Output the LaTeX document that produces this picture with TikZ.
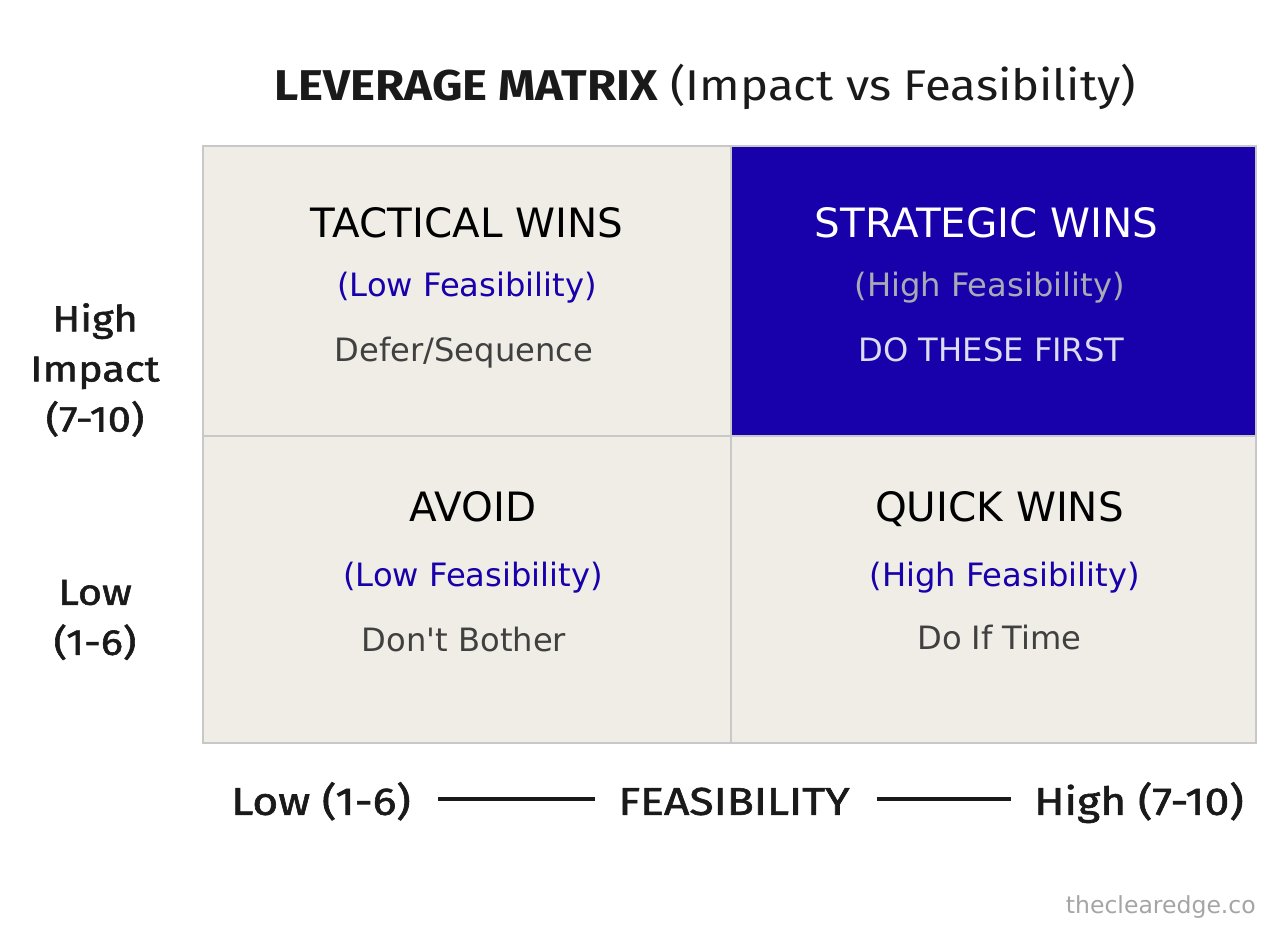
\documentclass[tikz,border=0pt]{standalone}
\usepackage{fontspec}
\setmainfont{DejaVu Sans}
\newfontfamily\axisfont{Fira Sans}[FakeStretch=1.1]
\newfontfamily\axismedfont{Fira Sans}[FakeStretch=1.15, FakeBold=1.6]
\usetikzlibrary{positioning}
\definecolor{cellbg}{RGB}{240,237,231}
\definecolor{deepblue}{RGB}{24,0,170}
\definecolor{gridline}{RGB}{200,200,200}
\definecolor{labelblack}{RGB}{26,26,26}
\definecolor{notegray}{RGB}{64,64,64}
\definecolor{hotsub}{RGB}{170,170,182}
\definecolor{hotnote}{RGB}{221,221,240}
\definecolor{markgray}{RGB}{165,165,165}

\begin{document}
\begin{tikzpicture}[cell/.style={rectangle, draw=gridline, line width=0.9pt, fill=cellbg, inner sep=0pt},
	hot/.style={cell, fill=deepblue},
	head/.style={font=\fontsize{23}{27}\selectfont, anchor=base},
	sub/.style={font=\fontsize{18.3}{22}\selectfont, text=deepblue, anchor=base},
	note/.style={font=\fontsize{18.3}{22}\selectfont, text=notegray, anchor=base},
	impact/.style={font=\axismedfont\fontsize{20.5}{28.5}\selectfont, align=center, text=labelblack},
	axis/.style={font=\axismedfont\fontsize{22}{26}\selectfont, text=labelblack, text height=18pt, text depth=0pt},
	axisline/.style={line width=2.3pt, labelblack, shorten <=12pt, shorten >=10pt}]

			\useasboundingbox (0,0) rectangle (25.76,18.62);

			\node[font=\axisfont\fontsize{24.5}{28}\selectfont, text=labelblack, anchor=base] (title) at (14.10,16.60) {\textbf{LEVERAGE MATRIX} (Impact vs Feasibility)};

			% quadrants
			\node[cell, minimum width=10.56cm, minimum height=5.80cm] (tactical) at (9.34,12.80) {};
			\node[hot, minimum width=10.50cm, minimum height=5.80cm] (strategic) at (19.87,12.80) {};
			\node[cell, minimum width=10.56cm, minimum height=6.14cm] (avoid) at (9.34,6.83) {};
			\node[cell, minimum width=10.50cm, minimum height=6.14cm] (quick) at (19.87,6.83) {};

			% top row
			\node[head] (tacticalhead) at ([yshift=-1.84cm]tactical.north) {TACTICAL WINS};
			\node[sub, below=1.18cm of tacticalhead.base, anchor=base] (tacticalsub) {(Low Feasibility)};
			\node[note, below=1.30cm of tacticalsub.base, anchor=base, xshift=-0.06cm] (tacticalnote) {Defer/Sequence};

			\node[head, text=white] (strategichead) at ([xshift=-0.14cm, yshift=-1.84cm]strategic.north) {STRATEGIC WINS};
			\node[sub, text=hotsub, below=1.18cm of strategichead.base, anchor=base, xshift=0.06cm] (strategicsub) {(High Feasibility)};
			\node[note, text=hotnote, below=1.30cm of strategicsub.base, anchor=base, xshift=0.04cm] (strategicnote) {DO THESE FIRST};

			% bottom row
			\node[head] (avoidhead) at ([xshift=0.12cm, yshift=-1.72cm]avoid.north) {AVOID};
			\node[sub, below=1.30cm of avoidhead.base, anchor=base] (avoidsub) {(Low Feasibility)};
			\node[note, below=1.30cm of avoidsub.base, anchor=base, xshift=-0.18cm] (avoidnote) {Don\textquotesingle t Bother};

			\node[head] (quickhead) at ([xshift=0.12cm, yshift=-1.72cm]quick.north) {QUICK WINS};
			\node[sub, below=1.30cm of quickhead.base, anchor=base, xshift=0.10cm] (quicksub) {(High Feasibility)};
			\node[note, below=1.26cm of quicksub.base, anchor=base, xshift=-0.10cm] (quicknote) {Do If Time};

			% impact axis
			\node[impact] (highimpact) at (1.90,11.22) {High\\Impact\\(7-10)};
			\node[impact] (lowimpact) at (1.90,6.22) {Low\\(1-6)};

			% feasibility axis
			\node[axis] (feaslow) at (6.42,2.64) {Low (1-6)};
			\node[axis] (feas) at (14.68,2.64) {FEASIBILITY};
			\node[axis] (feashigh) at (22.78,2.64) {High (7-10)};
			\draw[axisline] (feaslow) -- (feas);
			\draw[axisline] (feas) -- (feashigh);

			\node[font=\fontsize{13.4}{16}\selectfont, text=markgray, anchor=base east] (mark) at (25.24,0.36) {theclearedge.co};

		\end{tikzpicture}
\end{document}
